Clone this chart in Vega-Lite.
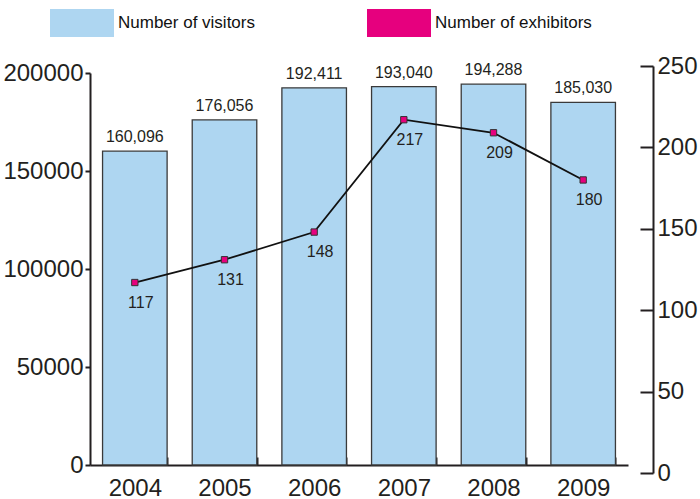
{
  "$schema": "https://vega.github.io/schema/vega-lite/v6.json",
  "autosize": "none",
  "width": 538,
  "height": 392,
  "padding": {"left": 90, "top": 73, "right": 72, "bottom": 34},
  "background": "white",
  "config": {
    "view": {"stroke": null},
    "axis": {"grid": false, "domainColor": "#231f20", "tickColor": "#231f20", "domainWidth": 2, "tickWidth": 2, "labelColor": "#231f20", "labelFont": "Liberation Sans", "labelFontSize": 24, "title": null, "zindex": 1}
  },
  "data": {
    "values": [
      {"year": "2004", "visitors": 160096, "exhibitors": 117},
      {"year": "2005", "visitors": 176056, "exhibitors": 131},
      {"year": "2006", "visitors": 192411, "exhibitors": 148},
      {"year": "2007", "visitors": 193040, "exhibitors": 217},
      {"year": "2008", "visitors": 194288, "exhibitors": 209},
      {"year": "2009", "visitors": 185030, "exhibitors": 180}
    ]
  },
  "encoding": {
    "x": {
      "field": "year", "type": "ordinal",
      "scale": {"paddingInner": 0.28, "paddingOuter": 0.14},
      "axis": {"labelAngle": 0, "tickBand": "extent", "tickSize": -8, "labelPadding": 19}
    }
  },
  "layer": [
    {
      "encoding": {
        "y": {
          "field": "visitors", "type": "quantitative",
          "scale": {"domain": [0, 200000], "nice": false},
          "axis": {"orient": "left", "values": [0, 50000, 100000, 150000, 200000], "format": "d", "tickSize": 5, "labelPadding": 2}
        }
      },
      "layer": [
        {
          "mark": {"type": "bar", "stroke": "#3a3a3a", "strokeWidth": 1.3},
          "encoding": {
            "fill": {
              "datum": "Number of visitors",
              "scale": {"domain": ["Number of visitors", "Number of exhibitors"], "range": ["#aed6f1", "#e6007e"]},
              "legend": {
                "title": null,
                "orient": "none",
                "legendX": -40,
                "legendY": -82,
                "direction": "horizontal",
                "columns": 2,
                "columnPadding": 112,
                "padding": 0,
                "symbolType": "M-1,-0.4375H1V0.4375H-1Z",
                "symbolSize": 4096,
                "symbolStrokeWidth": 0,
                "symbolOpacity": 1,
                "labelFont": "Liberation Sans",
                "labelFontSize": 17,
                "labelColor": "#111111",
                "labelOffset": 4,
                "labelLimit": 300
              }
            }
          }
        },
        {
          "mark": {"type": "text", "baseline": "bottom", "dy": -6, "font": "Liberation Sans", "fontSize": 16, "color": "#231f20"},
          "encoding": {"text": {"field": "visitors", "type": "quantitative", "format": ","}}
        }
      ]
    },
    {
      "encoding": {
        "y": {
          "field": "exhibitors", "type": "quantitative",
          "scale": {"domain": [0, 250], "nice": false, "range": [400, -7]},
          "axis": {"orient": "right", "values": [0, 50, 100, 150, 200, 250], "tickSize": -13, "labelPadding": 17, "offset": 25}
        }
      },
      "layer": [
        {
          "mark": {"type": "line", "color": "#111111", "strokeWidth": 1.8},
          "encoding": {}
        },
        {
          "mark": {"type": "point", "shape": "square", "filled": true, "size": 40, "stroke": "#333333", "strokeWidth": 1, "opacity": 1},
          "encoding": {"fill": {"datum": "Number of exhibitors"}}
        },
        {
          "mark": {"type": "text", "baseline": "top", "dy": 12, "dx": 6, "font": "Liberation Sans", "fontSize": 16, "color": "#231f20"},
          "encoding": {"text": {"field": "exhibitors", "type": "quantitative"}}
        }
      ]
    }
  ],
  "resolve": {"scale": {"y": "independent"}, "axis": {"y": "independent"}}
}
